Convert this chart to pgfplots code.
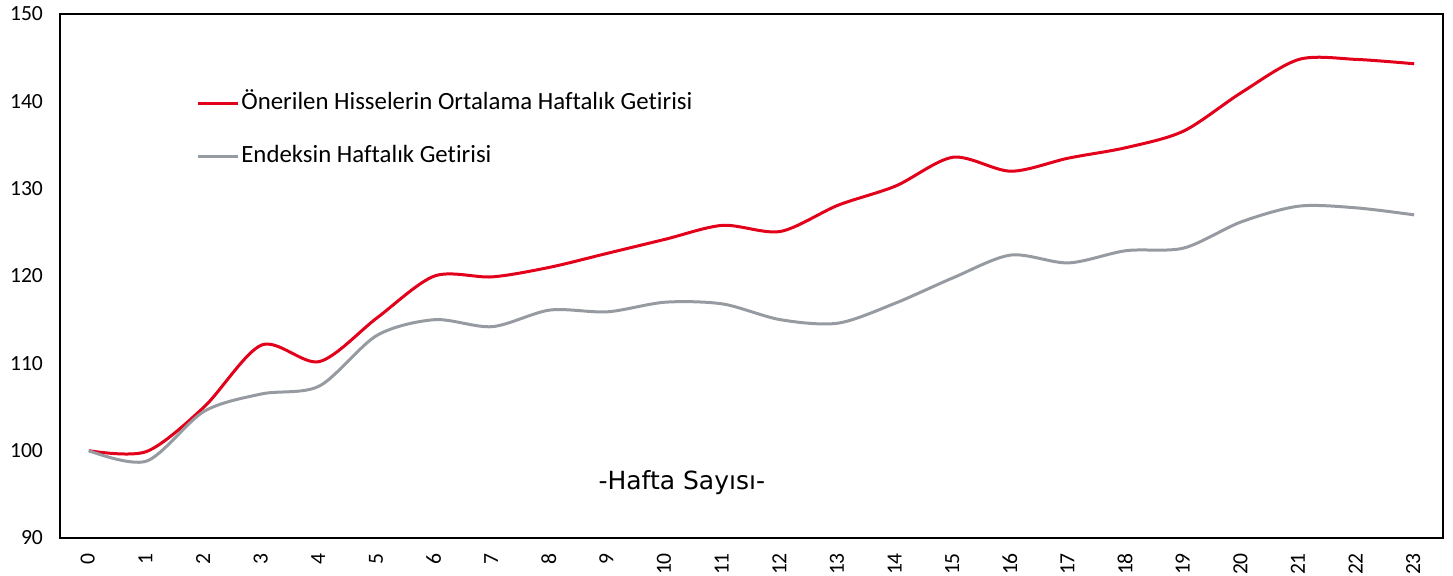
\documentclass[border=0pt]{standalone}
\usepackage{fontspec}
\setmainfont{Carlito}[Ligatures={NoCommon}]
\newfontfamily\verdanalike{DejaVu Sans}
\usepackage{pgfplots}
\pgfplotsset{compat=1.18}
\definecolor{redline}{RGB}{227,0,27}
\definecolor{grayline}{RGB}{150,155,161}
\begin{document}
\begin{tikzpicture}
\useasboundingbox (0,0) rectangle (726.5pt,287.5pt);
\begin{axis}[
  at={(30pt,18.5pt)}, anchor=south west,
  scale only axis, width=691.5pt, height=262pt,
  xmin=-0.5, xmax=23.5, ymin=90, ymax=150,
  xtick={0,...,23}, ytick={90,100,...,150},
  tick style={draw=none},
  axis line style={black, line width=0.8pt},
  /pgf/number format/assume math mode=true,
  ticklabel style={font=\fontsize{10.8}{12}\selectfont},
  yticklabel style={anchor=east, xshift=-5pt},
  xticklabel style={rotate=90, anchor=east, xshift=-4pt, yshift=0.5pt},
  legend style={at={(0.094,0.865)}, anchor=north west, draw=none, fill=none,
    font=\fontsize{12.4}{14}\selectfont,
    nodes={text height=9pt, text depth=3pt, inner sep=1pt},
    row sep=12.5pt},
  legend cell align=left,
  legend image code/.code={\draw[#1, line width=1.5pt] (0pt,0pt) -- (20pt,0pt);},
]
\addplot[redline, line width=1.5pt, smooth] coordinates {
(0,100.0) (1,99.9) (2,105.0) (3,112.1) (4,110.2) (5,115.2) (6,120.0) (7,119.9)
(8,121.0) (9,122.6) (10,124.2) (11,125.8) (12,125.1) (13,128.1) (14,130.3)
(15,133.6) (16,132.0) (17,133.5) (18,134.7) (19,136.6) (20,141.0) (21,144.8)
(22,144.8) (23,144.3)};
\addlegendentry{Önerilen Hisselerin Ortalama Haftalık Getirisi}
\addplot[grayline, line width=1.5pt, smooth] coordinates {
(0,100.0) (1,98.8) (2,104.5) (3,106.5) (4,107.4) (5,113.2) (6,115.0) (7,114.2)
(8,116.1) (9,115.9) (10,117.0) (11,116.8) (12,115.0) (13,114.6) (14,116.9)
(15,119.8) (16,122.4) (17,121.5) (18,122.9) (19,123.2) (20,126.2) (21,128.0)
(22,127.8) (23,127.0)};
\addlegendentry{Endeksin Haftalık Getirisi}
\node[font=\verdanalike\fontsize{12.5}{14}\selectfont] at (axis cs:10.29,96.4) {-Hafta Sayısı-};
\end{axis}
\end{tikzpicture}
\end{document}
